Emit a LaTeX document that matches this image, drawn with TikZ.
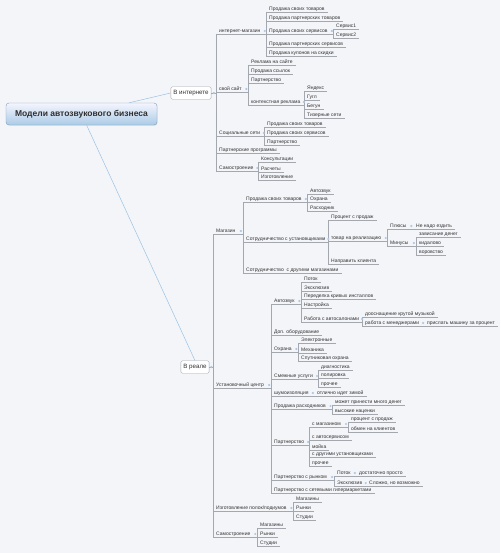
\documentclass[tikz,border=0pt]{standalone}
\usepackage{fontspec}
\setmainfont{Liberation Sans}
\usepackage{xcolor}
\usepackage{tikz}
\usetikzlibrary{calc,shadows}
\definecolor{bgcol}{HTML}{F4F5F9}
\definecolor{linecol}{HTML}{A4A7AD}
\definecolor{txtcol}{HTML}{333333}
\definecolor{knobcol}{HTML}{A9C8EA}
\definecolor{rootline}{HTML}{9CC2E2}
\tikzset{
  rootbox/.style={rectangle,rounded corners=3pt,draw=rootline!80!black,top color=blue!4!white,bottom color=rootline!85!white,minimum width=151pt,minimum height=22pt,font=\fontsize{8.5}{10}\selectfont\bfseries,text=txtcol!90!black,drop shadow={opacity=0.15,shadow xshift=0.6pt,shadow yshift=-0.8pt}},
  catbox/.style={rectangle,rounded corners=1.5pt,draw=linecol,fill=white,inner xsep=2.5pt,minimum height=12.5pt,font=\fontsize{6.2}{7}\selectfont,text=txtcol},
  link/.style={draw=linecol,line width=0.45pt},
  rootlink/.style={draw=rootline,line width=0.5pt},
  topic/.style={anchor=south west,inner xsep=3pt,inner ysep=0.5pt,text height=3.6pt,text depth=1pt,font=\fontsize{5}{6}\selectfont,text=txtcol,
    append after command={(\tikzlastnode.south west) edge[link] (\tikzlastnode.south east)}},
  knob/.style={fill=knobcol}
}
% parent, first child, last child
\newcommand{\subtree}[3]{%
  \draw[link] (#1.south east) -- (#2.south west |- #1.south east);
  \draw[link] (#2.south west) -- (#3.south west);
  \fill[knob] ($(#1.east)!0.5!(#2.west |- #1.east)$) circle (1.2pt);}
% parent with a single child
\newcommand{\onechild}[2]{%
  \draw[link] (#1.south east) -- (#2.south west);
  \fill[knob] ($(#1.east)!0.5!(#2.west)$) circle (1.2pt);}

\begin{document}
\begin{tikzpicture}[x=1pt,y=-1pt]
  \fill[bgcol] (0,0) rectangle (500,553);
  \useasboundingbox (0,0) rectangle (500,553);

  \node[rootbox] (root) at (81.5,114) {Модели автозвукового бизнеса};
  \node[catbox] (net) at (191,93) {В интернете};
  \node[catbox] (real) at (195,367) {В реале};
  \draw[rootlink] (root) -- (net.west);
  \draw[rootlink] (root) -- (real.north);

  % --- В интернете
  \node[topic] (im) at (216,34) {интернет-магазин};
  \node[topic] (site) at (216,92) {свой сайт};
  \node[topic] (soc) at (216,136) {Социальные сети};
  \node[topic] (pp) at (216,153) {Партнерские программы};
  \node[topic] (sb1) at (216,171) {Самостроение};

  \node[topic] (im1) at (266,12) {Продажа своих товаров};
  \node[topic] (im2) at (266,21) {Продажа партнерских товаров};
  \node[topic] (im3) at (266,34) {Продажа своих сервисов};
  \node[topic] (im4) at (266,47) {Продажа партнерских сервисов};
  \node[topic] (im5) at (266,56) {Продажа купонов на скидки};
  \node[topic] (sv1) at (333,29) {Сервис1};
  \node[topic] (sv2) at (333,38) {Сервис2};

  \node[topic] (st1) at (248,65) {Реклама на сайте};
  \node[topic] (st2) at (248,74) {Продажа ссылок};
  \node[topic] (st3) at (248,83) {Партнерство};
  \node[topic] (ctx) at (248,105) {контекстная реклама};
  \node[topic] (cx1) at (304,91) {Яндекс};
  \node[topic] (cx2) at (304,100) {Гугл};
  \node[topic] (cx3) at (304,109) {Бегун};
  \node[topic] (cx4) at (304,118) {Тизерные сети};

  \node[topic] (sc1) at (264,127) {Продажа своих товаров};
  \node[topic] (sc2) at (264,136) {Продажа своих сервисов};
  \node[topic] (sc3) at (264,145) {Партнерство};

  \node[topic] (sa1) at (258,162) {Консультации};
  \node[topic] (sa2) at (258,172) {Расчеты};
  \node[topic] (sa3) at (258,180) {Изготовление};

  % --- В реале
  \node[topic] (shop) at (213,234) {Магазин};
  \node[topic] (inst) at (213,388) {Установочный центр};
  \node[topic] (shelf) at (213,511) {Изготовление полок/подиумов};
  \node[topic] (sb2) at (213,537) {Самостроение};

  \node[topic] (sh1) at (243,202) {Продажа своих товаров};
  \node[topic] (coop) at (243,242) {Сотрудничество с установщиками};
  \node[topic] (sh3) at (243,273) {Сотрудничество~ с другими магазинами};
  \node[topic] (g1) at (307,194) {Автозвук};
  \node[topic] (g2) at (307,202) {Охрана};
  \node[topic] (g3) at (307,211) {Расходник};
  \node[topic] (cp1) at (328,220) {Процент с продаж};
  \node[topic] (cons) at (328,241) {товар на реализацию};
  \node[topic] (cp3) at (328,264) {Направить клиента};
  \node[topic] (plus) at (387,229) {Плюсы};
  \node[topic] (minus) at (387,246) {Минусы};
  \node[topic] (pl1) at (413,229) {Не надо ездить};
  \node[topic] (mn1) at (416,237) {зависание денег};
  \node[topic] (mn2) at (416,246) {кидалово};
  \node[topic] (mn3) at (416,255) {воровство};

  \node[topic] (az) at (271,304) {Автозвук};
  \node[topic] (dop) at (271,335) {Доп. оборудование};
  \node[topic] (ohr) at (271,352) {Охрана};
  \node[topic] (smz) at (271,379) {Смежные услуги};
  \node[topic] (shum) at (271,396) {шумоизоляция};
  \node[topic] (rash) at (271,409) {Продажа расходников};
  \node[topic] (part) at (271,445) {Партнерство};
  \node[topic] (prn) at (271,480) {Партнерство с рынком};
  \node[topic] (prs) at (271,493) {Партнерство с сетевыми гипермаркетами};

  \node[topic] (a1) at (301,282) {Поток};
  \node[topic] (a2) at (301,291) {Эксклюзив};
  \node[topic] (a3) at (301,299) {Переделка кривых инсталлов};
  \node[topic] (a4) at (301,308) {Настройка};
  \node[topic] (sal) at (301,322) {Работа с автосалонами};
  \node[topic] (sl1) at (362,317) {дооснащение крутой музыкой};
  \node[topic] (mgr) at (362,326) {работа с менеджерами};
  \node[topic] (mg1) at (424,326) {прислать машину за процент};

  \node[topic] (o1) at (298,343) {Электронные};
  \node[topic] (o2) at (298,353) {Механика};
  \node[topic] (o3) at (298,361) {Спутниковая охрана};
  \node[topic] (u1) at (318,370) {диагностика};
  \node[topic] (u2) at (318,378) {полировка};
  \node[topic] (u3) at (318,387) {прочее};
  \node[topic] (zim) at (314,396) {отлично идет зимой};
  \node[topic] (r1) at (332,405) {может принести много денег};
  \node[topic] (r2) at (332,414) {высокие наценки};

  \node[topic] (mag) at (309,427) {с магазином};
  \node[topic] (p2) at (309,440) {с автосервисом};
  \node[topic] (p3) at (309,450) {мойка};
  \node[topic] (p4) at (309,457) {с другими установщиками};
  \node[topic] (p5) at (309,466) {прочее};
  \node[topic] (m1) at (348,422) {процент с продаж};
  \node[topic] (m2) at (348,432) {обмен на клиентов};

  \node[topic] (rpot) at (334,476) {Поток};
  \node[topic] (rexc) at (334,486) {Эксклюзив};
  \node[topic] (e1) at (356,476) {достаточно просто};
  \node[topic] (e2) at (366,486) {Сложно, но возможно};

  \node[topic] (f1) at (293,502) {Магазины};
  \node[topic] (f2) at (293,511) {Рынки};
  \node[topic] (f3) at (293,520) {Студии};
  \node[topic] (b1) at (257,528) {Магазины};
  \node[topic] (b2) at (257,537) {Рынки};
  \node[topic] (b3) at (257,546) {Студии};

  % connectors
  \draw[link] (net.east) -- (im.south west |- net.east);
  \draw[link] (im.south west) -- (sb1.south west);
  \fill[knob] ($(net.east)+(2.5,0)$) circle (1.2pt);
  \draw[link] (real.east) -- (shop.south west |- real.east);
  \draw[link] (shop.south west) -- (sb2.south west);
  \fill[knob] ($(real.east)+(2,0)$) circle (1.2pt);

  \subtree{im}{im1}{im5}
  \subtree{im3}{sv1}{sv2}
  \subtree{site}{st1}{ctx}
  \subtree{ctx}{cx1}{cx4}
  \subtree{soc}{sc1}{sc3}
  \subtree{sb1}{sa1}{sa3}

  \subtree{shop}{sh1}{sh3}
  \subtree{sh1}{g1}{g3}
  \subtree{coop}{cp1}{cp3}
  \subtree{cons}{plus}{minus}
  \onechild{plus}{pl1}
  \subtree{minus}{mn1}{mn3}
  \subtree{inst}{az}{prs}
  \subtree{az}{a1}{sal}
  \subtree{sal}{sl1}{mgr}
  \onechild{mgr}{mg1}
  \subtree{ohr}{o1}{o3}
  \subtree{smz}{u1}{u3}
  \onechild{shum}{zim}
  \subtree{rash}{r1}{r2}
  \subtree{part}{mag}{p5}
  \subtree{mag}{m1}{m2}
  \subtree{prn}{rpot}{rexc}
  \onechild{rpot}{e1}
  \onechild{rexc}{e2}
  \subtree{shelf}{f1}{f3}
  \subtree{sb2}{b1}{b3}
\end{tikzpicture}
\end{document}
